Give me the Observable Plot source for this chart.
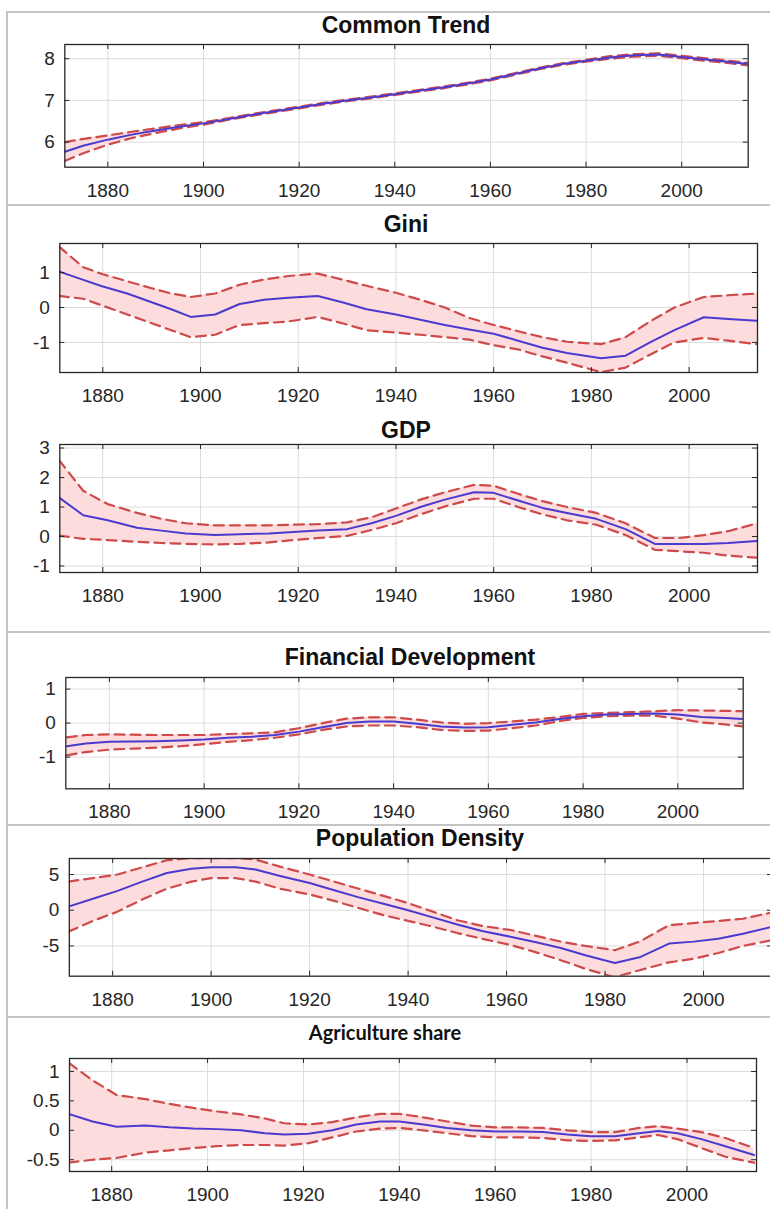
<!DOCTYPE html>
<html><head><meta charset="utf-8">
<script src="https://cdn.jsdelivr.net/npm/d3@7"></script>
<script src="https://cdn.jsdelivr.net/npm/@observablehq/plot@0.6"></script>
<style>
html,body{margin:0;padding:0;background:#fff;}
#fig{position:relative;width:770px;height:1209px;overflow:hidden;background:#fff;font-family:Arial,"Liberation Sans",Helvetica,sans-serif;}
.title{position:absolute;font-weight:bold;font-size:23px;color:#111;white-space:nowrap;transform:translate(-50%,-50%);line-height:1;}
.title.agri{font-family:Lato,"Open Sans",sans-serif;font-size:20px;font-weight:700;}
.hline{position:absolute;height:2px;background:#c4c4c4;}
.vline{position:absolute;width:2px;background:#c4c4c4;}
svg.panel{position:absolute;left:0;max-width:none !important;overflow:visible;}
</style></head><body><div id="fig"></div><script>
// ---------- data ----------
const xTickYears = [1880, 1900, 1920, 1940, 1960, 1980, 2000];

const trendTitle = "Common Trend";
const trendYears = [1871,1875,1880,1885,1890,1895,1900,1905,1910,1915,1920,1925,1930,1935,1940,1945,1950,1955,1960,1965,1970,1975,1980,1985,1990,1995,2000,2005,2010,2014];
const trendMean  = [5.77,5.92,6.06,6.18,6.28,6.37,6.45,6.55,6.65,6.74,6.83,6.92,7.0,7.07,7.15,7.23,7.31,7.4,7.5,7.63,7.76,7.87,7.95,8.03,8.08,8.1,8.04,7.98,7.92,7.87];
const trendUpper = [6.0,6.08,6.16,6.25,6.33,6.41,6.48,6.57,6.67,6.76,6.85,6.94,7.02,7.09,7.17,7.25,7.33,7.42,7.52,7.65,7.78,7.89,7.97,8.06,8.11,8.13,8.07,8.01,7.95,7.9];
const trendLower = [5.55,5.74,5.94,6.1,6.22,6.33,6.42,6.53,6.63,6.72,6.81,6.9,6.98,7.05,7.13,7.21,7.29,7.38,7.48,7.61,7.74,7.85,7.93,8.0,8.05,8.07,8.01,7.95,7.89,7.84];
const trendYTicks = [6, 7, 8];

const giniTitle = "Gini";
const giniYears = [1871,1876,1880,1885,1890,1894,1898,1903,1908,1913,1918,1924,1929,1934,1940,1945,1950,1955,1960,1965,1970,1975,1982,1987,1992,1997,2003,2008,2014];
const giniMean  = [1.03,0.79,0.6,0.4,0.15,-0.05,-0.27,-0.2,0.1,0.22,0.28,0.33,0.15,-0.05,-0.2,-0.35,-0.5,-0.63,-0.75,-0.95,-1.15,-1.3,-1.45,-1.38,-1.0,-0.65,-0.28,-0.33,-0.38];
const giniUpper = [1.75,1.15,0.95,0.75,0.55,0.4,0.3,0.4,0.65,0.8,0.9,0.97,0.8,0.62,0.42,0.22,0.0,-0.3,-0.5,-0.68,-0.85,-0.98,-1.05,-0.85,-0.4,0.0,0.3,0.35,0.4];
const giniLower = [0.33,0.25,0.05,-0.2,-0.45,-0.65,-0.85,-0.78,-0.5,-0.45,-0.4,-0.27,-0.45,-0.65,-0.72,-0.78,-0.85,-0.92,-1.08,-1.2,-1.4,-1.58,-1.85,-1.72,-1.35,-1.0,-0.87,-0.95,-1.05];
const giniYTicks = [-1, 0, 1];

const gdpTitle = "GDP";
const gdpYears = [1871,1876,1881,1887,1892,1897,1903,1908,1914,1919,1924,1930,1935,1940,1945,1950,1956,1960,1965,1970,1975,1981,1987,1993,1998,2003,2008,2014];
const gdpMean  = [1.33,0.72,0.55,0.3,0.2,0.1,0.05,0.08,0.1,0.15,0.2,0.25,0.45,0.7,1.0,1.25,1.5,1.48,1.22,0.97,0.8,0.6,0.25,-0.25,-0.25,-0.25,-0.22,-0.15];
const gdpUpper = [2.6,1.55,1.1,0.8,0.6,0.45,0.38,0.38,0.38,0.4,0.42,0.48,0.65,0.95,1.25,1.5,1.75,1.72,1.45,1.2,1.0,0.8,0.45,-0.05,-0.05,0.05,0.18,0.45];
const gdpLower = [0.03,-0.08,-0.12,-0.18,-0.22,-0.25,-0.27,-0.25,-0.2,-0.12,-0.05,0.02,0.22,0.45,0.75,1.02,1.28,1.28,1.0,0.75,0.55,0.4,0.05,-0.45,-0.5,-0.55,-0.65,-0.72];
const gdpYTicks = [-1, 0, 1, 2, 3];

const finTitle = "Financial Development";
const finYears = [1871,1875,1880,1885,1890,1895,1900,1905,1910,1915,1920,1925,1930,1935,1940,1945,1950,1955,1960,1965,1970,1975,1980,1985,1990,1995,2000,2005,2010,2014];
const finMean  = [-0.68,-0.6,-0.55,-0.54,-0.53,-0.51,-0.48,-0.43,-0.4,-0.35,-0.25,-0.12,0.0,0.05,0.05,-0.02,-0.1,-0.13,-0.12,-0.05,0.02,0.12,0.2,0.25,0.27,0.28,0.25,0.18,0.15,0.12];
const finUpper = [-0.42,-0.35,-0.33,-0.34,-0.35,-0.35,-0.35,-0.32,-0.3,-0.27,-0.15,0.0,0.13,0.17,0.17,0.1,0.02,-0.02,0.0,0.05,0.1,0.18,0.27,0.3,0.32,0.35,0.38,0.37,0.36,0.35];
const finLower = [-0.95,-0.85,-0.78,-0.75,-0.72,-0.68,-0.62,-0.55,-0.5,-0.43,-0.33,-0.2,-0.1,-0.07,-0.07,-0.12,-0.2,-0.23,-0.22,-0.15,-0.07,0.06,0.15,0.2,0.22,0.22,0.13,0.02,-0.04,-0.1];
const finYTicks = [-1, 0, 1];

const popTitle = "Population Density";
const popYears = [1871,1876,1881,1886,1891,1896,1900,1905,1909,1914,1920,1925,1930,1935,1940,1945,1950,1955,1961,1966,1971,1976,1982,1987,1993,1998,2003,2008,2014];
const popMean  = [0.5,1.6,2.7,4.0,5.2,5.8,6.0,6.0,5.7,4.8,3.8,2.8,1.8,0.9,0.0,-1.0,-2.0,-2.9,-3.74,-4.5,-5.3,-6.3,-7.4,-6.6,-4.67,-4.4,-4.0,-3.3,-2.3];
const popUpper = [4.0,4.5,5.0,6.0,7.0,7.3,7.3,7.3,7.1,6.1,5.0,4.0,3.0,2.0,1.0,-0.2,-1.4,-2.2,-2.8,-3.6,-4.4,-5.0,-5.6,-4.4,-2.1,-1.8,-1.5,-1.2,-0.3];
const popLower = [-3.0,-1.5,-0.2,1.5,3.0,4.0,4.5,4.5,4.0,3.0,2.2,1.3,0.3,-0.7,-1.5,-2.3,-3.2,-4.0,-4.9,-5.9,-7.0,-8.2,-9.4,-8.4,-7.3,-6.8,-6.0,-5.0,-4.2];
const popYTicks = [-5, 0, 5];

const agriTitle = "Agriculture share";
const agriYears = [1871,1876,1881,1887,1892,1897,1902,1907,1912,1916,1921,1926,1931,1936,1940,1945,1950,1955,1960,1965,1970,1975,1980,1985,1990,1994,1998,2003,2008,2014];
const agriMean  = [0.28,0.15,0.06,0.08,0.05,0.03,0.02,0.0,-0.05,-0.07,-0.06,0.0,0.1,0.15,0.15,0.1,0.04,0.0,-0.02,-0.02,-0.03,-0.07,-0.1,-0.1,-0.05,-0.01,-0.05,-0.15,-0.27,-0.42];
const agriUpper = [1.15,0.85,0.6,0.53,0.45,0.38,0.32,0.27,0.2,0.12,0.1,0.14,0.22,0.28,0.28,0.22,0.15,0.08,0.05,0.05,0.04,0.0,-0.03,-0.03,0.04,0.07,0.03,-0.03,-0.13,-0.3];
const agriLower = [-0.55,-0.5,-0.47,-0.38,-0.34,-0.3,-0.27,-0.25,-0.25,-0.26,-0.22,-0.12,-0.02,0.03,0.04,0.0,-0.05,-0.1,-0.12,-0.12,-0.13,-0.17,-0.18,-0.17,-0.12,-0.08,-0.15,-0.3,-0.45,-0.55];
const agriYTicks = [-0.5, 0, 0.5, 1];

// ---------- layout ----------
const panels = [
  {title: trendTitle, years: trendYears, mean: trendMean, upper: trendUpper, lower: trendLower, yTicks: trendYTicks,
   left: 64.3, right: 747.7, top: 44, bottom: 166.7, xDomain: [1871, 2013.9], yDomain: [5.4, 8.34], tx: 406, ty: 25},
  {title: giniTitle, years: giniYears, mean: giniMean, upper: giniUpper, lower: giniLower, yTicks: giniYTicks,
   left: 59.3, right: 757, top: 243, bottom: 372, xDomain: [1871.2, 2014], yDomain: [-1.86, 1.83], tx: 406, ty: 224},
  {title: gdpTitle, years: gdpYears, mean: gdpMean, upper: gdpUpper, lower: gdpLower, yTicks: gdpYTicks,
   left: 59.3, right: 757, top: 444, bottom: 572, xDomain: [1871.2, 2014], yDomain: [-1.22, 3.12], tx: 406, ty: 430},
  {title: finTitle, years: finYears, mean: finMean, upper: finUpper, lower: finLower, yTicks: finYTicks,
   left: 65.3, right: 742.7, top: 676.7, bottom: 788, xDomain: [1870.8, 2013.8], yDomain: [-1.93, 1.34], tx: 410, ty: 657},
  {title: popTitle, years: popYears, mean: popMean, upper: popUpper, lower: popLower, yTicks: popYTicks,
   left: 68.8, right: 772, top: 858.3, bottom: 976, xDomain: [1871.2, 2014], yDomain: [-9.24, 7.24], tx: 420, ty: 838},
  {title: agriTitle, years: agriYears, mean: agriMean, upper: agriUpper, lower: agriLower, yTicks: agriYTicks,
   left: 69, right: 756, top: 1058, bottom: 1171, xDomain: [1871.2, 2014.5], yDomain: [-0.7, 1.22], tx: 385, ty: 1032, agri: true}
];

const fig = document.getElementById("fig");
function addDiv(cls, css, text) {
  const d = document.createElement("div");
  d.className = cls;
  Object.assign(d.style, css);
  if (text != null) d.textContent = text;
  fig.appendChild(d);
  return d;
}

// frame / separator lines of the composite
addDiv("vline", {left: "6px", top: "12px", height: "1197px"});
for (const y of [12, 205, 632, 825, 1017]) addDiv("hline", {left: "6px", top: (y - 1) + "px", width: "764px"});

const W = 780, MT = 14, MB = 40;
const fmt = d => String(d);

for (const p of panels) {
  const data = p.years.map((t, i) => ({t, m: p.mean[i], lo: p.lower[i], hi: p.upper[i]}));
  const pw = p.right - p.left, ph = p.bottom - p.top;
  const svg = Plot.plot({
    width: W,
    height: ph + MT + MB,
    marginTop: MT, marginBottom: MB, marginLeft: p.left, marginRight: W - p.right,
    x: {domain: p.xDomain, label: null},
    y: {domain: p.yDomain, label: null},
    style: {fontFamily: "Arial, 'Liberation Sans', Helvetica, sans-serif", fontSize: "19px", color: "#262626", background: "transparent", overflow: "visible"},
    marks: [
      Plot.gridX(xTickYears, {stroke: "#dcdcdc", strokeOpacity: 1}),
      Plot.gridY(p.yTicks, {stroke: "#dcdcdc", strokeOpacity: 1}),
      Plot.areaY(data, {x: "t", y1: "lo", y2: "hi", fill: "#fcdcdc", fillOpacity: 1, clip: true}),
      Plot.lineY(data, {x: "t", y: "hi", stroke: "#cf4a4a", strokeWidth: 2.2, strokeDasharray: "10,6", clip: true}),
      Plot.lineY(data, {x: "t", y: "lo", stroke: "#cf4a4a", strokeWidth: 2.2, strokeDasharray: "10,6", clip: true}),
      Plot.lineY(data, {x: "t", y: "m", stroke: "#4a3ad0", strokeWidth: 2, clip: true}),
      Plot.ruleX(xTickYears, {stroke: "#262626", insetBottom: ph - 5}),
      Plot.ruleX(xTickYears, {stroke: "#262626", insetTop: ph - 5}),
      Plot.ruleY(p.yTicks, {stroke: "#262626", insetRight: pw - 5}),
      Plot.ruleY(p.yTicks, {stroke: "#262626", insetLeft: pw - 5}),
      Plot.axisX(xTickYears, {tickSize: 0, tickPadding: 16, tickFormat: fmt, fill: "#262626", fontSize: 19}),
      Plot.axisY(p.yTicks, {tickSize: 0, tickPadding: 10, tickFormat: fmt, fill: "#262626", fontSize: 19}),
      Plot.frame({stroke: "#262626", strokeWidth: 1.3})
    ]
  });
  svg.classList.add("panel");
  svg.style.top = (p.top - MT) + "px";
  svg.style.maxWidth = "none";
  svg.style.height = (ph + MT + MB) + "px";
  fig.appendChild(svg);
  addDiv("title" + (p.agri ? " agri" : ""), {left: p.tx + "px", top: p.ty + "px"}, p.title);
}
</script></body></html>
